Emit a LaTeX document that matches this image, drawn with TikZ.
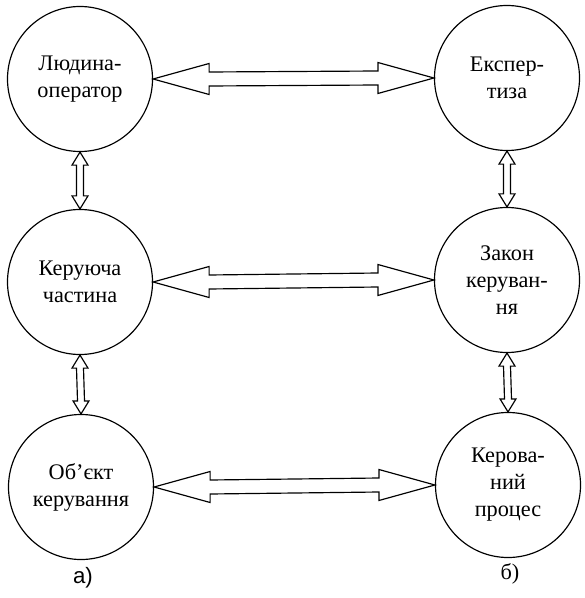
\documentclass[tikz,border=0pt]{standalone}
\usepackage{fontspec}
\setmainfont{Liberation Serif}
\newfontfamily\sanslabel{Liberation Sans}
\usetikzlibrary{calc}
\tikzset{
  font={\fontsize{19pt}{23pt}\selectfont}}

\begin{document}
\begin{tikzpicture}[x=0.03cm,y=-0.03cm,line width=1pt]
\tikzstyle{every node}+=[inner sep=0pt]
\tikzstyle{unit}=[draw,circle,minimum size=4.35cm,align=center]
\useasboundingbox (0,0) rectangle (584,598);
\node [unit] (lo) at (80,79) {Людина-\\оператор};
\node [unit] (kc) at (80,282) {Керуюча\\частина};
\node [unit] (ok) at (81,487) {Об’єкт\\керування};
\node [unit] (ex) at (507,78) {Експер-\\тиза};
\node [unit] (zk) at (507,280) {Закон\\керуван-\\ня};
\node [unit] (kp) at (508,485) {Керова-\\ний\\процес};
\node (la) at (83,578) {\sanslabel а)};
\node (lb) at (510,574) {б)};
\foreach \a/\b in {lo/ex,kc/zk,ok/kp}
  \draw (\a.east) -- ++(56,-15.5) -- ++(0,8.5) -- ($(\b.west)+(-56,-7)$) -- ++(0,-8.5) -- (\b.west)
    -- ++(-56,15.5) -- ++(0,-8.5) -- ($(\a.east)+(56,7)$) -- ++(0,8.5) -- cycle;
\foreach \a/\b in {lo/kc,kc/ok,ex/zk,zk/kp}
  \draw (\a.south) -- ++(8,13) -- ++(-4.5,0) -- ($(\b.north)+(3.5,-13)$) -- ++(4.5,0) -- (\b.north)
    -- ++(-8,-13) -- ++(4.5,0) -- ($(\a.south)+(-3.5,13)$) -- ++(-4.5,0) -- cycle;
\end{tikzpicture}
\end{document}
